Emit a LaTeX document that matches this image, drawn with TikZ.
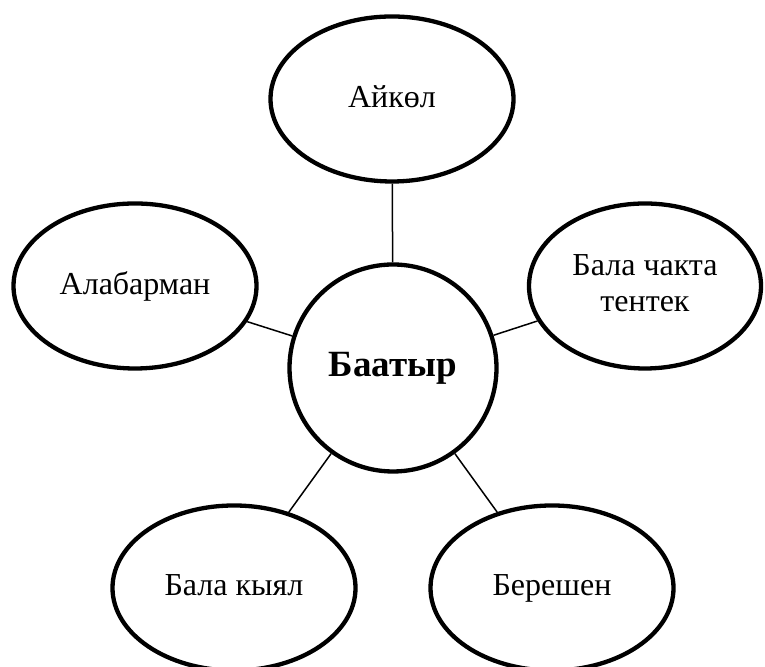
\documentclass[tikz,border=0pt]{standalone}
\usepackage{fontspec}
\setmainfont{Liberation Serif}
\usetikzlibrary{shapes.geometric}

\begin{document}
\begin{tikzpicture}[x=0.5pt,y=0.5pt,
  trait/.style={draw,ellipse,line width=2.15pt,inner sep=0pt,
    minimum width=121.5pt,minimum height=82.5pt,align=center,
    text depth=0.25em,font=\fontsize{16}{18}\selectfont},
  hero/.style={draw,circle,line width=2.15pt,inner sep=0pt,
    minimum size=103.5pt,font=\fontsize{18.5}{20}\selectfont\bfseries},
  link/.style={line width=0.75pt}]
\useasboundingbox (0,0) rectangle (765,667);

\node[hero] (baatyr) at (393,299) {Баатыр};

\node[trait] (aikol) at (392,568) {Айкөл};
\node[trait] (alabarman) at (135,381) {Алабарман};
\node[trait,minimum width=116pt] (tentek) at (645,381) {Бала чакта\\тентек};
\node[trait] (kyial) at (234,79) {Бала кыял};
\node[trait] (bereshen) at (552,79) {Берешен};

\foreach \t in {aikol,alabarman,tentek,kyial,bereshen}
  \draw[link] (baatyr) -- (\t);
\end{tikzpicture}
\end{document}
